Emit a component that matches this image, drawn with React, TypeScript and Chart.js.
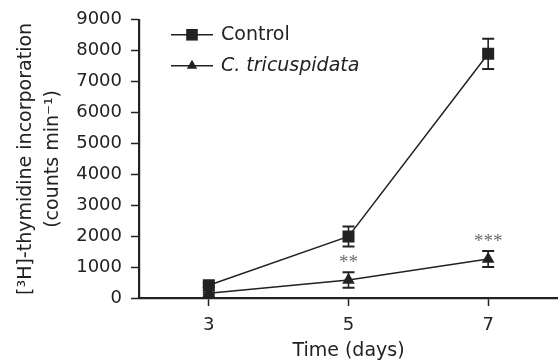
import React, { useEffect, useRef } from 'react';
import { Chart, registerables } from 'chart.js';

Chart.register(...registerables);

// ---- data ----
const days = [3, 5, 7];
const controlMean = [415, 1990, 7900];
const controlErr = [60, 320, 490];
const tricMean = [150, 580, 1260];
const tricErr = [40, 250, 260];
const significance = ['', '**', '***'];
const seriesLabels = ['Control', 'C. tricuspidata'];
const xTicks = [3, 5, 7];
const yTitle = ['[³H]-thymidine incorporation', '(counts min⁻¹)'];
const xTitle = 'Time (days)';

const INK = '#222222';
const FONT = "'DejaVu Sans', sans-serif";

const errorBarPlugin = {
  id: 'errorBars',
  afterDatasetsDraw(chart: any) {
    const { ctx } = chart;
    const xs = chart.scales.x;
    const ys = chart.scales.y;
    chart.data.datasets.forEach((ds: any) => {
      const errs: number[] = ds.errors || [];
      ds.data.forEach((pt: any, j: number) => {
        const e = errs[j] || 0;
        const px = xs.getPixelForValue(pt.x);
        const top = ys.getPixelForValue(pt.y + e);
        const bot = ys.getPixelForValue(pt.y - e);
        ctx.save();
        ctx.strokeStyle = INK;
        ctx.lineWidth = 1.6;
        ctx.beginPath();
        ctx.moveTo(px, top);
        ctx.lineTo(px, bot);
        ctx.stroke();
        ctx.lineWidth = 2;
        ctx.beginPath();
        ctx.moveTo(px - 6, top);
        ctx.lineTo(px + 6, top);
        ctx.moveTo(px - 6, bot);
        ctx.lineTo(px + 6, bot);
        ctx.stroke();
        ctx.restore();
      });
      const sig: string[] = ds.significance;
      if (sig) {
        ds.data.forEach((pt: any, j: number) => {
          if (!sig[j]) return;
          const px = xs.getPixelForValue(pt.x);
          const top = ys.getPixelForValue(pt.y + (errs[j] || 0));
          ctx.save();
          ctx.fillStyle = '#6a6a6a';
          ctx.font = "19px 'Liberation Serif', serif";
          ctx.textAlign = 'center';
          ctx.textBaseline = 'middle';
          ctx.fillText(sig[j], px, top - 9);
          ctx.restore();
        });
      }
    });
  },
};

const legendPlugin = {
  id: 'lineMarkerLegend',
  afterDraw(chart: any) {
    const { ctx, chartArea } = chart;
    const x0 = chartArea.left + 32;
    const x1 = chartArea.left + 74;
    const xm = (x0 + x1) / 2;
    const rows = [chartArea.top + 15, chartArea.top + 46];
    chart.data.datasets.forEach((ds: any, i: number) => {
      const y = rows[i];
      ctx.save();
      ctx.strokeStyle = INK;
      ctx.lineWidth = 1.5;
      ctx.beginPath();
      ctx.moveTo(x0, y);
      ctx.lineTo(x1, y);
      ctx.stroke();
      ctx.fillStyle = INK;
      ctx.beginPath();
      if (ds.pointStyle === 'rect') {
        ctx.rect(xm - 5.8, y - 5.8, 11.6, 11.6);
      } else {
        const r = 6;
        ctx.moveTo(xm, y - r);
        ctx.lineTo(xm + r * 0.866, y + r * 0.5);
        ctx.lineTo(xm - r * 0.866, y + r * 0.5);
        ctx.closePath();
      }
      ctx.fill();
      ctx.font = (i === 1 ? 'italic ' : '') + '19px ' + FONT;
      ctx.textAlign = 'left';
      ctx.textBaseline = 'middle';
      ctx.fillText(ds.label, x1 + 8, y);
      ctx.restore();
    });
  },
};

export default function App() {
  const ref = useRef<HTMLCanvasElement | null>(null);

  useEffect(() => {
    if (!ref.current) return;
    const chart = new Chart(ref.current, {
      type: 'line',
      data: {
        datasets: [
          {
            label: seriesLabels[0],
            data: days.map((d, i) => ({ x: d, y: controlMean[i] })),
            errors: controlErr,
            borderColor: INK,
            borderWidth: 1.5,
            pointStyle: 'rect',
            pointRadius: 8.5,
            pointHoverRadius: 8.5,
            pointBackgroundColor: INK,
            pointBorderWidth: 0,
            tension: 0,
          } as any,
          {
            label: seriesLabels[1],
            data: days.map((d, i) => ({ x: d, y: tricMean[i] })),
            errors: tricErr,
            significance: significance,
            borderColor: INK,
            borderWidth: 1.5,
            pointStyle: 'triangle',
            pointRadius: 7.3,
            pointHoverRadius: 7.3,
            pointBackgroundColor: INK,
            pointBorderWidth: 0,
            tension: 0,
          } as any,
        ],
      },
      options: {
        animation: false,
        responsive: false,
        maintainAspectRatio: false,
        layout: { autoPadding: false, padding: { top: 16, left: 0, right: 0, bottom: 0 } },
        plugins: {
          legend: { display: false },
          tooltip: { enabled: false },
        },
        scales: {
          x: {
            type: 'linear',
            min: 2,
            max: 8,
            afterBuildTicks: (s: any) => {
              s.ticks = xTicks.map((v) => ({ value: v }));
            },
            afterFit: (s: any) => {
              s.height = 65;
              s.paddingLeft = 0;
              s.paddingRight = 0;
            },
            grid: {
              drawOnChartArea: false,
              drawTicks: true,
              tickLength: 8,
              tickWidth: 1.5,
              tickColor: INK,
            },
            border: { display: true, color: INK, width: 2.2 },
            ticks: {
              color: INK,
              font: { family: FONT, size: 18 },
              padding: 9,
            },
            title: {
              display: true,
              text: xTitle,
              color: INK,
              font: { family: FONT, size: 19, lineHeight: 1.2 },
              padding: { top: 0, bottom: 1 },
            },
          },
          y: {
            type: 'linear',
            min: 0,
            max: 9000,
            afterFit: (s: any) => {
              s.width = 139;
            },
            grid: {
              drawOnChartArea: false,
              drawTicks: true,
              tickLength: 8,
              tickWidth: 1.5,
              tickColor: INK,
            },
            border: { display: true, color: INK, width: 2.2 },
            ticks: {
              stepSize: 1000,
              color: INK,
              font: { family: FONT, size: 18 },
              padding: 9,
              callback: (v: any) => String(v),
            },
            title: {
              display: true,
              text: yTitle,
              color: INK,
              font: { family: FONT, size: 19, lineHeight: 1.4 },
              padding: { top: 13, bottom: 0 },
            },
          },
        },
      } as any,
      plugins: [errorBarPlugin, legendPlugin],
    });
    return () => chart.destroy();
  }, []);

  return (
    <div style={{ position: 'absolute', left: 0, top: 0, width: 558, height: 363, background: '#fff' }}>
      <canvas ref={ref} width={558} height={363} style={{ display: 'block' }} />
    </div>
  );
}
